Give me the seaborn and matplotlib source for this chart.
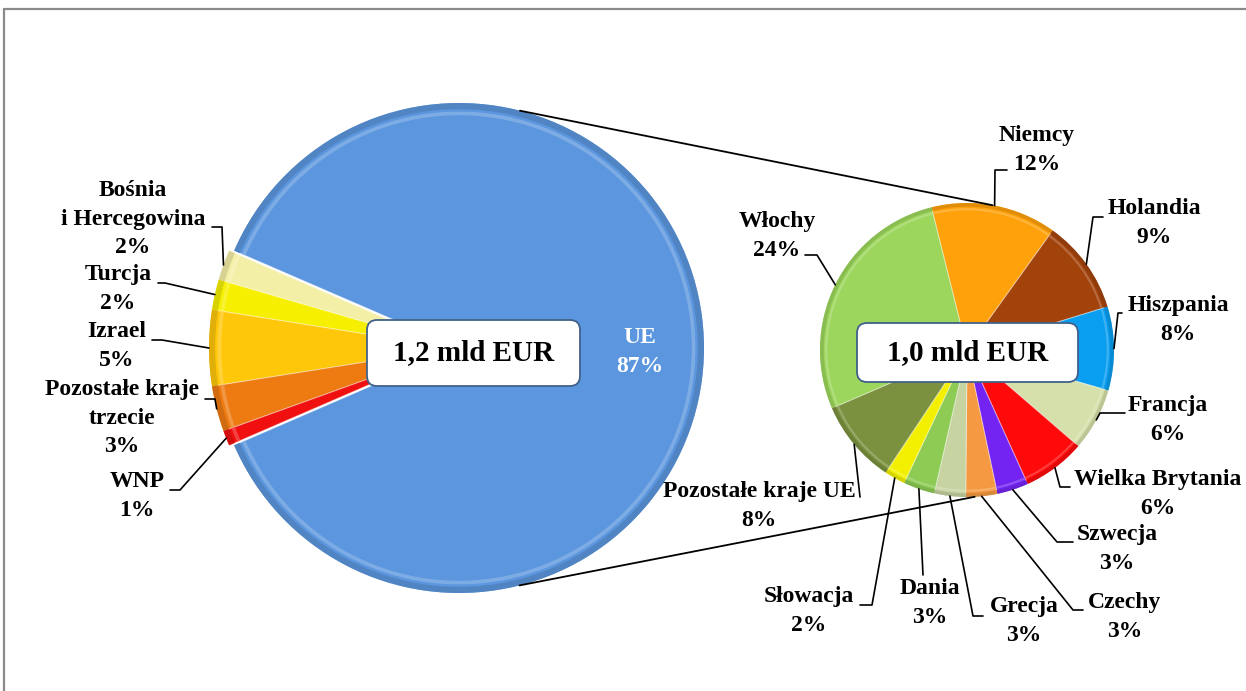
import numpy as np
import matplotlib
matplotlib.use("Agg")
import matplotlib.pyplot as plt
from matplotlib.patches import FancyBboxPatch
from matplotlib.lines import Line2D
import matplotlib.colors as mcolors
import seaborn as sns

# ---- data -------------------------------------------------------------
main_names = ["Bośnia\ni Hercegowina", "Turcja", "Izrael",
              "Pozostałe kraje\ntrzecie", "WNP", "UE"]
main_values = [2, 2, 5, 3, 1, 87]
main_colors = ["#F4EFA6", "#F6F000", "#FFC70A", "#EE7A12", "#F01010", "#5B96DE"]
main_total_label = "1,2 mld EUR"

eu_names = ["Niemcy", "Holandia", "Hiszpania", "Francja", "Wielka Brytania",
            "Szwecja", "Czechy", "Grecja", "Dania", "Słowacja",
            "Pozostałe kraje UE", "Włochy"]
eu_values = [12, 9, 8, 6, 6, 3, 3, 3, 3, 2, 8, 24]
eu_colors = ["#FFA10A", "#A3430C", "#0A9EF0", "#D6E0AA", "#FF0A0A",
             "#7424F2", "#F59A42", "#C7D4A2", "#8DCB55", "#F2F000",
             "#7C9140", "#9CD65C"]
eu_total_label = "1,0 mld EUR"

# ---- figure -----------------------------------------------------------
W, H = 1246, 691
sns.set_theme(style="white")
plt.rcParams["font.family"] = ["Liberation Serif", "DejaVu Serif"]
plt.rcParams["text.color"] = "black"

fig = plt.figure(figsize=(W / 100, H / 100), dpi=100)
ax = fig.add_axes([0, 0, 1, 1])


def py(y):
    """Convert a top-down pixel row into the axes' y coordinate."""
    return H - y


def shade(c, f):
    r, g, b = mcolors.to_rgb(c)
    if f < 0:
        return (r * (1 + f), g * (1 + f), b * (1 + f))
    return (r + (1 - r) * f, g + (1 - g) * f, b + (1 - b) * f)


def bevel_pie(values, colors, center, radius, startangle, counterclock):
    wedges, _ = ax.pie(values, colors=colors, center=center, radius=radius,
                       startangle=startangle, counterclock=counterclock,
                       wedgeprops=dict(linewidth=0.8,
                                       edgecolor=(1, 1, 1, 0.35)),
                       frame=True)
    # thin shaded rim with a soft highlight just inside it
    ax.pie(values, colors=[shade(c, -0.12) for c in colors], center=center,
           radius=radius, startangle=startangle, counterclock=counterclock,
           wedgeprops=dict(width=radius * 0.025, linewidth=0), frame=True)
    ax.pie(values, colors=[shade(c, 0.30) for c in colors], center=center,
           radius=radius * 0.965, startangle=startangle,
           counterclock=counterclock,
           wedgeprops=dict(width=radius * 0.015, linewidth=0, alpha=0.7),
           frame=True)
    return wedges


def edge_point(wedge):
    cx, cy = wedge.center
    mid = np.deg2rad((wedge.theta1 + wedge.theta2) / 2)
    return cx + wedge.r * np.cos(mid), cy + wedge.r * np.sin(mid)


# ---- main pie ---------------------------------------------------------
L_C = (459, py(348))
L_R = 245
small_share = sum(main_values[:-1]) / sum(main_values) * 360
left_wedges = bevel_pie(main_values, main_colors, L_C, L_R,
                        180 - small_share / 2, True)
# pull the non-EU group slightly outward
for p in list(ax.patches):
    if hasattr(p, "theta1") and tuple(p.center) == L_C:
        mid = (p.theta1 + p.theta2) / 2 % 360
        if 150 < mid < 210:
            p.set_center((L_C[0] - 5, L_C[1]))

# ---- EU breakdown pie -------------------------------------------------
R_C = (967, py(350))
R_R = 147
right_wedges = bevel_pie(eu_values, eu_colors, R_C, R_R, 104, False)

ax.set_xlim(0, W)
ax.set_ylim(0, H)
ax.set_aspect("equal")
ax.axis("off")

# ---- connector lines between the pies ---------------------------------
def on_circle(c, r, ang):
    a = np.deg2rad(ang)
    return c[0] + r * np.cos(a), c[1] + r * np.sin(a)

for a_left, a_right in [(75.6, 80.0), (-75.7, -87.0)]:
    p1 = on_circle(L_C, L_R, a_left)
    p2 = on_circle(R_C, R_R, a_right)
    ax.plot([p1[0], p2[0]], [p1[1], p2[1]], color="black", lw=1.3, zorder=1)

# ---- labels -----------------------------------------------------------
label_kw = dict(fontsize=17, fontweight="bold", ha="center", va="center",
                linespacing=1.45, zorder=10)

# text centre, leader start, leader elbow (pixels)
left_layout = [
    ((133, 219), (212, 227), (222, 227)),
    ((118, 289), (158, 283), (165, 283)),
    ((117, 346), (152, 340), (162, 340)),
    ((122, 418), (205, 399), (215, 399)),
    ((137, 496), (170, 490), (180, 490)),
]
for (name, val, w, lay) in zip(main_names[:-1], main_values[:-1],
                               left_wedges[:-1], left_layout):
    (tx, ty), (sx, sy), (ex, ey) = lay
    ax.text(tx, py(ty), f"{name}\n{val}%", color="black", **label_kw)
    px, pyy = edge_point(w)
    ax.plot([sx, ex, px], [py(sy), py(ey), pyy], color="black", lw=1.2,
            zorder=9)

ax.text(640, py(352), f"{main_names[-1]}\n{main_values[-1]}%",
        color="white", **label_kw)

right_layout = [
    ((1037, 150), (1007, 170), (995, 170)),
    ((1154, 223), (1103, 217), (1093, 217)),
    ((1178, 320), (1122, 313), (1118, 313)),
    ((1168, 420), (1125, 413), (1100, 413)),
    ((1158, 494), (1070, 487), (1060, 487)),
    ((1117, 549), (1073, 542), (1057, 542)),
    ((1125, 617), (1083, 610), (1073, 610)),
    ((1024, 621), (983, 616), (973, 616)),
    ((930, 603), (923, 575), (923, 575)),
    ((809, 611), (860, 605), (872, 605)),
    ((759, 506), (860, 497), (860, 497)),
    ((777, 236), (805, 255), (817, 255)),
]
for (name, val, w, lay) in zip(eu_names, eu_values, right_wedges, right_layout):
    (tx, ty), (sx, sy), (ex, ey) = lay
    ax.text(tx, py(ty), f"{name}\n{val}%", color="black", **label_kw)
    px, pyy = edge_point(w)
    ax.plot([sx, ex, px], [py(sy), py(ey), pyy], color="black", lw=1.2,
            zorder=9)

# ---- total boxes ------------------------------------------------------
for (x0, y0, x1, y1), txt in [((367, 320, 580, 386), main_total_label),
                              ((857, 323, 1078, 382), eu_total_label)]:
    box = FancyBboxPatch((x0, py(y1)), x1 - x0, y1 - y0,
                         boxstyle="round,pad=0,rounding_size=10",
                         facecolor="white", edgecolor="#41618A", lw=1.3,
                         zorder=11)
    ax.add_patch(box)
    ax.text((x0 + x1) / 2, py((y0 + y1) / 2), txt, fontsize=21,
            fontweight="bold", color="black", ha="center", va="center",
            zorder=12)

# ---- outer frame ------------------------------------------------------
fig.add_artist(Line2D([4 / W, 1], [1 - 9 / H, 1 - 9 / H],
                      color="#8A8A8A", lw=1.6))
fig.add_artist(Line2D([4 / W, 4 / W], [0, 1 - 9 / H],
                      color="#8A8A8A", lw=1.6))

fig.savefig("out.png", dpi=100)
